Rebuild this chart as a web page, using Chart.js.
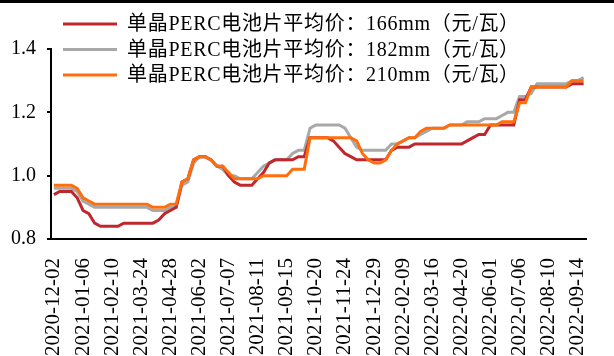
<!DOCTYPE html>
<html>
<head>
<meta charset="utf-8">
<script src="https://cdn.jsdelivr.net/npm/chart.js@4.4.1/dist/chart.umd.min.js"></script>
<style>
  html, body { margin: 0; padding: 0; background: #fff; }
  #wrap { width: 614px; height: 356px; position: relative; }
</style>
</head>
<body>
<div id="wrap"><canvas id="chart" width="614" height="356"></canvas></div>
<script>
// Weekly price dates (some holiday weeks have no quote)
const dates = [
  '2020-12-02','2020-12-09','2020-12-16','2020-12-23','2020-12-30',
  '2021-01-06','2021-01-13','2021-01-20','2021-01-27','2021-02-03',
  '2021-02-10','2021-02-24','2021-03-03','2021-03-10','2021-03-17',
  '2021-03-24','2021-03-31','2021-04-07','2021-04-14','2021-04-21',
  '2021-04-28','2021-05-05','2021-05-12','2021-05-19','2021-05-26',
  '2021-06-02','2021-06-09','2021-06-16','2021-06-23','2021-06-30',
  '2021-07-07','2021-07-14','2021-07-21','2021-07-28','2021-08-04',
  '2021-08-11','2021-08-18','2021-08-25','2021-09-01','2021-09-08',
  '2021-09-15','2021-09-22','2021-09-29','2021-10-06','2021-10-13',
  '2021-10-20','2021-10-27','2021-11-03','2021-11-10','2021-11-17',
  '2021-11-24','2021-12-01','2021-12-08','2021-12-15','2021-12-22',
  '2021-12-29','2022-01-05','2022-01-12','2022-01-19','2022-01-26',
  '2022-02-09','2022-02-16','2022-02-23','2022-03-02','2022-03-09',
  '2022-03-16','2022-03-23','2022-03-30','2022-04-06','2022-04-13',
  '2022-04-20','2022-04-27','2022-05-11','2022-05-18','2022-05-25',
  '2022-06-01','2022-06-08','2022-06-15','2022-06-22','2022-06-29',
  '2022-07-06','2022-07-13','2022-07-20','2022-07-27','2022-08-03',
  '2022-08-10','2022-08-17','2022-08-24','2022-08-31','2022-09-07',
  '2022-09-14','2022-09-21'
];

// Dates printed under the x axis
const shownDates = [
  '2020-12-02','2021-01-06','2021-02-10','2021-03-24','2021-04-28',
  '2021-06-02','2021-07-07','2021-08-11','2021-09-15','2021-10-20',
  '2021-11-24','2021-12-29','2022-02-09','2022-03-16','2022-04-20',
  '2022-06-01','2022-07-06','2022-08-10','2022-09-14'
];

// Mono PERC cell average price, yuan per watt
const price166 = [
  0.94,0.95,0.95,0.95,0.93, 0.89,0.88,0.85,0.84,0.84,
  0.84,0.84,0.85,0.85,0.85, 0.85,0.85,0.85,0.86,0.88,
  0.89,0.90,0.98,0.99,1.05, 1.06,1.06,1.05,1.03,1.03,
  1.00,0.98,0.97,0.97,0.97, 0.99,1.01,1.04,1.05,1.05,
  1.05,1.05,1.06,1.06,1.12, 1.12,1.12,1.12,1.11,1.09,
  1.07,1.06,1.05,1.05,1.05, 1.05,1.05,1.05,1.08,1.09,
  1.09,1.09,1.10,1.10,1.10, 1.10,1.10,1.10,1.10,1.10,
  1.10,1.11,1.12,1.13,1.13, 1.16,1.16,1.16,1.16,1.16,
  1.24,1.24,1.28,1.28,1.28, 1.28,1.28,1.28,1.28,1.29,
  1.29,1.29
];
const price182 = [
  0.96,0.96,0.96,0.96,0.95, 0.92,0.91,0.90,0.90,0.90,
  0.90,0.90,0.90,0.90,0.90, 0.90,0.90,0.89,0.89,0.89,
  0.90,0.90,0.97,0.98,1.04, 1.06,1.06,1.05,1.03,1.02,
  1.00,1.00,0.99,0.99,0.99, 1.01,1.03,1.04,1.05,1.05,
  1.05,1.07,1.08,1.08,1.15, 1.16,1.16,1.16,1.16,1.16,
  1.15,1.12,1.09,1.08,1.08, 1.08,1.08,1.08,1.10,1.10,
  1.11,1.12,1.12,1.13,1.14, 1.15,1.15,1.15,1.16,1.16,
  1.16,1.17,1.17,1.17,1.18, 1.18,1.18,1.19,1.20,1.20,
  1.25,1.25,1.26,1.29,1.29, 1.29,1.29,1.29,1.29,1.30,
  1.30,1.31
];
const price210 = [
  0.97,0.97,0.97,0.97,0.96, 0.93,0.92,0.91,0.91,0.91,
  0.91,0.91,0.91,0.91,0.91, 0.91,0.91,0.90,0.90,0.90,
  0.91,0.91,0.98,0.99,1.05, 1.06,1.06,1.05,1.03,1.03,
  1.01,0.99,0.99,0.99,0.99, 0.99,1.00,1.00,1.00,1.00,
  1.00,1.02,1.02,1.02,1.12, 1.12,1.12,1.12,1.12,1.12,
  1.12,1.12,1.11,1.07,1.05, 1.04,1.04,1.05,1.08,1.10,
  1.11,1.12,1.12,1.14,1.15, 1.15,1.15,1.15,1.16,1.16,
  1.16,1.16,1.16,1.16,1.16, 1.16,1.16,1.17,1.17,1.17,
  1.23,1.23,1.28,1.28,1.28, 1.28,1.28,1.28,1.28,1.30,
  1.30,1.30
];

const seriesNames = [
  '单晶PERC电池片平均价：166mm（元/瓦）',
  '单晶PERC电池片平均价：182mm（元/瓦）',
  '单晶PERC电池片平均价：210mm（元/瓦）'
];
const seriesColors = ['#C0272D', '#A8A8A8', '#FF6E0C'];
const yTicks = [0.8, 1.0, 1.2, 1.4];

const FONT_FAMILY = '"Liberation Serif", "Noto Sans CJK SC", serif';

// Legend drawn over the upper-left of the plot, one series per row
const overlayLegend = {
  id: 'overlayLegend',
  afterDraw(chart) {
    const ctx = chart.ctx;
    ctx.save();
    // thin black rule along the top edge
    ctx.fillStyle = '#000';
    ctx.fillRect(0, 0, chart.width, 3);
    ctx.font = '20px ' + FONT_FAMILY;
    ctx.textBaseline = 'middle';
    ctx.textAlign = 'left';
    if ('letterSpacing' in ctx) ctx.letterSpacing = '0.7px';
    chart.data.datasets.forEach((ds, i) => {
      const y = 24 + i * 25.5;
      ctx.strokeStyle = ds.borderColor;
      ctx.lineWidth = 3;
      ctx.beginPath();
      ctx.moveTo(63, y);
      ctx.lineTo(117, y);
      ctx.stroke();
      ctx.fillStyle = '#000';
      ctx.fillText(ds.label, 127, y + 1);
    });
    ctx.restore();
  }
};

const makeSet = (i, data, order) => ({
  label: seriesNames[i],
  data: data,
  borderColor: seriesColors[i],
  backgroundColor: seriesColors[i],
  borderWidth: 3,
  pointRadius: 0,
  tension: 0,
  fill: false,
  order: order
});

new Chart(document.getElementById('chart'), {
  type: 'line',
  data: {
    labels: dates,
    datasets: [
      makeSet(0, price166, 1),
      makeSet(1, price182, 2),
      makeSet(2, price210, 0)
    ]
  },
  options: {
    responsive: false,
    animation: false,
    devicePixelRatio: 1,
    layout: { padding: { top: 49, right: 0, left: 0, bottom: 0 } },
    plugins: {
      legend: { display: false },
      tooltip: { enabled: false }
    },
    scales: {
      x: {
        type: 'category',
        offset: true,
        grid: { display: false },
        border: { display: true, color: '#000', width: 2 },
        ticks: {
          autoSkip: false,
          maxRotation: 90,
          minRotation: 90,
          padding: 11,
          color: '#000',
          font: { family: FONT_FAMILY, size: 21 },
          callback: (v, i) => (shownDates.includes(dates[i]) ? dates[i] : null)
        },
        afterFit: (s) => { s.height = 117; }
      },
      y: {
        min: 0.8,
        max: 1.4,
        grid: {
          display: true,
          drawOnChartArea: false,
          drawTicks: true,
          tickLength: 4,
          color: '#000',
          lineWidth: 2
        },
        border: { display: true, color: '#000', width: 2 },
        ticks: {
          padding: 11,
          color: '#000',
          font: { family: FONT_FAMILY, size: 20 },
          callback: (v) => Number(v).toFixed(1)
        },
        afterBuildTicks: (s) => { s.ticks = yTicks.map(v => ({ value: v })); },
        afterFit: (s) => { s.width = 51; }
      }
    }
  },
  plugins: [overlayLegend]
});
</script>
</body>
</html>
